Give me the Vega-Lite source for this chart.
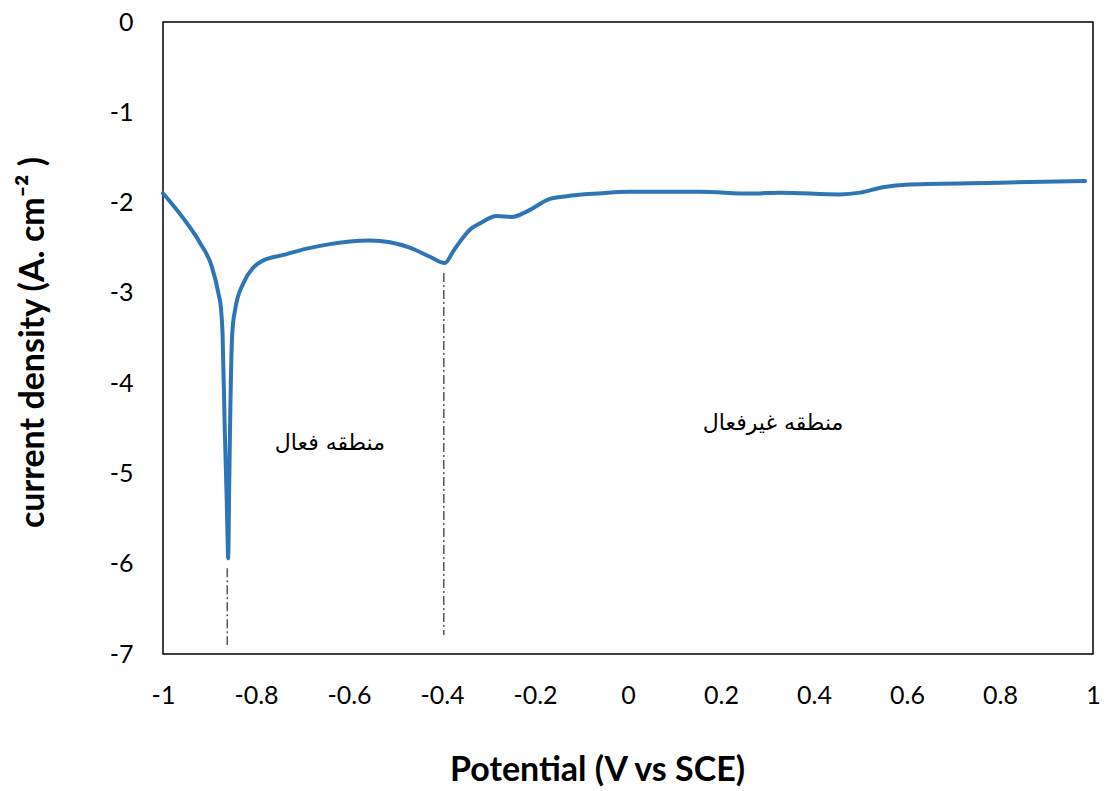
{
  "$schema": "https://vega.github.io/schema/vega-lite/v6.json",
  "width": 930,
  "height": 632,
  "autosize": "none",
  "padding": {"left": 163, "top": 22, "right": 12, "bottom": 137},
  "background": "white",
  "config": {
    "view": {"stroke": "black", "strokeWidth": 1.5},
    "font": "Lato"
  },
  "datasets": {
    "curve": [
      {"E": -1.000, "i": -1.897},
      {"E": -0.957, "i": -2.17},
      {"E": -0.920, "i": -2.45},
      {"E": -0.895, "i": -2.71},
      {"E": -0.881, "i": -3.00},
      {"E": -0.875, "i": -3.19},
      {"E": -0.872, "i": -3.44},
      {"E": -0.867, "i": -4.55},
      {"E": -0.863, "i": -5.29},
      {"E": -0.861, "i": -5.74},
      {"E": -0.860, "i": -5.94},
      {"E": -0.859, "i": -5.74},
      {"E": -0.858, "i": -5.29},
      {"E": -0.856, "i": -4.55},
      {"E": -0.851, "i": -3.44},
      {"E": -0.845, "i": -3.19},
      {"E": -0.827, "i": -2.89},
      {"E": -0.806, "i": -2.72},
      {"E": -0.788, "i": -2.65},
      {"E": -0.741, "i": -2.58},
      {"E": -0.691, "i": -2.51},
      {"E": -0.641, "i": -2.46},
      {"E": -0.598, "i": -2.43},
      {"E": -0.555, "i": -2.42},
      {"E": -0.512, "i": -2.44},
      {"E": -0.469, "i": -2.50},
      {"E": -0.426, "i": -2.60},
      {"E": -0.394, "i": -2.67},
      {"E": -0.376, "i": -2.54},
      {"E": -0.361, "i": -2.43},
      {"E": -0.340, "i": -2.30},
      {"E": -0.318, "i": -2.23},
      {"E": -0.282, "i": -2.15},
      {"E": -0.250, "i": -2.16},
      {"E": -0.218, "i": -2.10},
      {"E": -0.168, "i": -1.96},
      {"E": -0.132, "i": -1.93},
      {"E": -0.067, "i": -1.90},
      {"E": 0.004, "i": -1.88},
      {"E": 0.155, "i": -1.88},
      {"E": 0.262, "i": -1.90},
      {"E": 0.327, "i": -1.89},
      {"E": 0.456, "i": -1.91},
      {"E": 0.499, "i": -1.89},
      {"E": 0.548, "i": -1.83},
      {"E": 0.606, "i": -1.80},
      {"E": 0.800, "i": -1.78},
      {"E": 0.983, "i": -1.76}
    ],
    "guides": [
      {"E": -0.862, "top": -6.05, "bottom": -6.90},
      {"E": -0.396, "top": -2.78, "bottom": -6.79}
    ],
    "labels": [
      {"E": -0.641, "i": -4.66, "label": "منطقه فعال"},
      {"E": 0.312, "i": -4.44, "label": "منطقه غیرفعال"}
    ]
  },
  "layer": [
    {
      "data": {"name": "curve"},
      "mark": {"type": "line", "color": "#2E75B6", "strokeWidth": 4, "interpolate": "monotone", "strokeCap": "round", "strokeJoin": "round"},
      "encoding": {
        "x": {
          "field": "E", "type": "quantitative",
          "scale": {"domain": [-1, 1], "nice": false, "zero": false},
          "axis": {
            "values": [-1, -0.8, -0.6, -0.4, -0.2, 0, 0.2, 0.4, 0.6, 0.8, 1],
            "labelExpr": "datum.value + ''",
            "grid": false, "ticks": false, "domain": false,
            "labelFont": "Lato", "labelFontSize": 25, "labelColor": "black",
            "labelPadding": 29, "labelFlush": false, "labelOverlap": false,
            "title": "Potential (V vs SCE)",
            "titleFont": "Lato", "titleFontSize": 34, "titleFontWeight": "bold", "titleColor": "black",
            "titleX": 434, "titleY": 126, "titleBaseline": "alphabetic", "titleAlign": "center"
          }
        },
        "y": {
          "field": "i", "type": "quantitative",
          "scale": {"domain": [-7, 0], "nice": false, "zero": false},
          "axis": {
            "values": [-7, -6, -5, -4, -3, -2, -1, 0],
            "labelExpr": "datum.value + ''",
            "grid": false, "ticks": false, "domain": false,
            "labelFont": "Lato", "labelFontSize": 25, "labelColor": "black",
            "labelPadding": 30, "labelFlush": false, "labelOverlap": false,
            "title": "current density (A. cm⁻² )",
            "titleFont": "Lato", "titleFontSize": 34, "titleFontWeight": "bold", "titleColor": "black",
            "titleX": -120, "titleY": 320, "titleAngle": -90, "titleBaseline": "alphabetic", "titleAlign": "center"
          }
        }
      }
    },
    {
      "data": {"name": "guides"},
      "mark": {"type": "rule", "color": "black", "strokeWidth": 1, "strokeDash": [9, 3, 2, 3]},
      "encoding": {
        "x": {"field": "E", "type": "quantitative"},
        "y": {"field": "top", "type": "quantitative"},
        "y2": {"field": "bottom"}
      }
    },
    {
      "data": {"name": "labels"},
      "mark": {"type": "text", "font": "DejaVu Sans", "fontSize": 22, "color": "black", "align": "center", "baseline": "middle"},
      "encoding": {
        "x": {"field": "E", "type": "quantitative"},
        "y": {"field": "i", "type": "quantitative"},
        "text": {"field": "label"}
      }
    }
  ]
}
